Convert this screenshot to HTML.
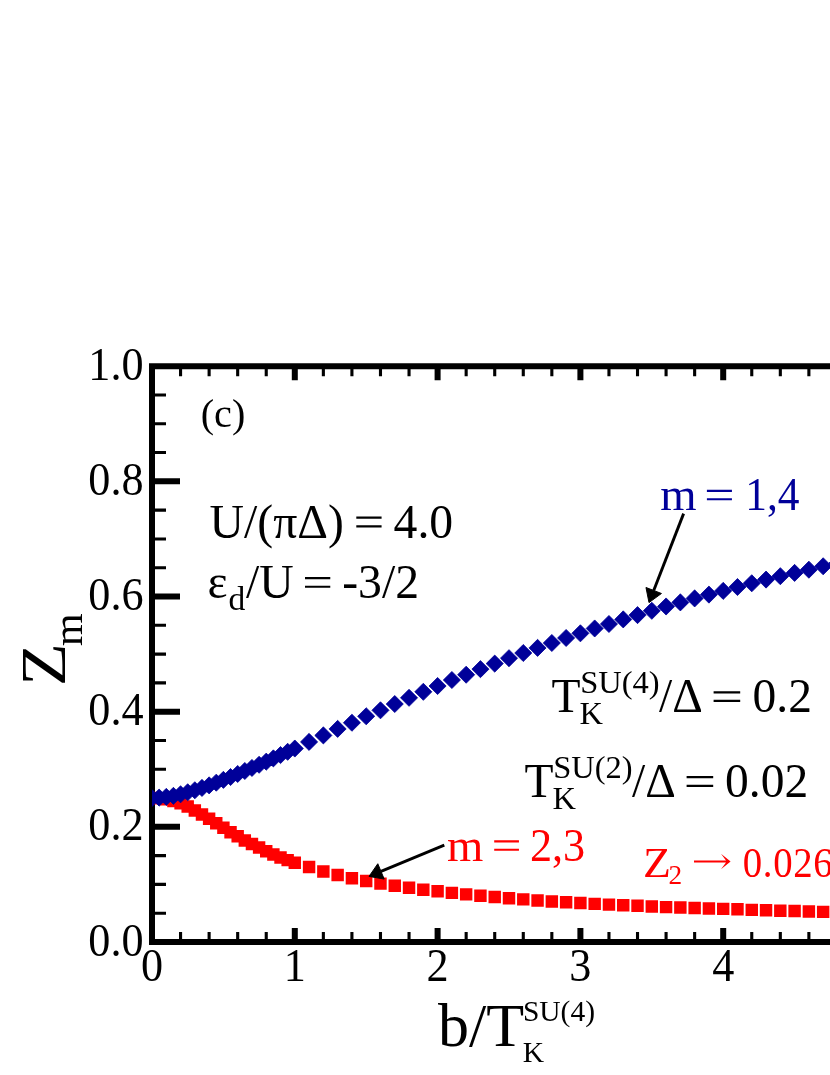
<!DOCTYPE html>
<html><head><meta charset="utf-8"><title>chart</title>
<style>
html,body{margin:0;padding:0;background:#fff;}
body{width:830px;height:1075px;overflow:hidden;}
svg{display:block;will-change:transform;font-family:"Liberation Serif",serif;}
</style></head><body>
<svg width="830" height="1075" viewBox="0 0 830 1075">
<rect width="830" height="1075" fill="#fff"/>
<defs><clipPath id="vp"><rect x="152.0" y="366.2" width="700" height="575.80"/></clipPath></defs>
<g stroke="#000" fill="none">
<path d="M860 366.2H152.0V942.0H860" stroke-width="6" stroke-linejoin="miter"/>
<path d="M294.80 942.0v-14M294.80 366.2v14M437.60 942.0v-14M437.60 366.2v14M580.40 942.0v-14M580.40 366.2v14M723.20 942.0v-14M723.20 366.2v14M152.0 826.84h28M152.0 711.68h28M152.0 596.52h28M152.0 481.36h28" stroke-width="6"/><path d="M180.56 942.0v-10M180.56 366.2v10M209.12 942.0v-10M209.12 366.2v10M237.68 942.0v-10M237.68 366.2v10M266.24 942.0v-10M266.24 366.2v10M323.36 942.0v-10M323.36 366.2v10M351.92 942.0v-10M351.92 366.2v10M380.48 942.0v-10M380.48 366.2v10M409.04 942.0v-10M409.04 366.2v10M466.16 942.0v-10M466.16 366.2v10M494.72 942.0v-10M494.72 366.2v10M523.28 942.0v-10M523.28 366.2v10M551.84 942.0v-10M551.84 366.2v10M608.96 942.0v-10M608.96 366.2v10M637.52 942.0v-10M637.52 366.2v10M666.08 942.0v-10M666.08 366.2v10M694.64 942.0v-10M694.64 366.2v10M751.76 942.0v-10M751.76 366.2v10M780.32 942.0v-10M780.32 366.2v10M808.88 942.0v-10M808.88 366.2v10M837.44 942.0v-10M837.44 366.2v10M152.0 913.21h14M152.0 884.42h14M152.0 855.63h14M152.0 798.05h14M152.0 769.26h14M152.0 740.47h14M152.0 682.89h14M152.0 654.10h14M152.0 625.31h14M152.0 567.73h14M152.0 538.94h14M152.0 510.15h14M152.0 452.57h14M152.0 423.78h14M152.0 394.99h14" stroke-width="3.1"/>
</g>
<g clip-path="url(#vp)">
<path d="M145.78 791.83h12.44v12.44h-12.44zM152.92 792.12h12.44v12.44h-12.44zM160.06 793.10h12.44v12.44h-12.44zM167.20 794.71h12.44v12.44h-12.44zM174.34 797.07h12.44v12.44h-12.44zM181.48 800.29h12.44v12.44h-12.44zM188.62 804.27h12.44v12.44h-12.44zM195.76 808.30h12.44v12.44h-12.44zM202.90 812.56h12.44v12.44h-12.44zM210.04 816.99h12.44v12.44h-12.44zM217.18 821.48h12.44v12.44h-12.44zM224.32 826.03h12.44v12.44h-12.44zM231.46 830.06h12.44v12.44h-12.44zM238.60 834.21h12.44v12.44h-12.44zM245.74 837.84h12.44v12.44h-12.44zM252.88 841.29h12.44v12.44h-12.44zM260.02 844.98h12.44v12.44h-12.44zM267.16 848.37h12.44v12.44h-12.44zM274.30 851.37h12.44v12.44h-12.44zM281.44 853.90h12.44v12.44h-12.44zM288.58 856.49h12.44v12.44h-12.44zM302.86 860.87h12.44v12.44h-12.44zM317.14 865.19h12.44v12.44h-12.44zM331.42 868.70h12.44v12.44h-12.44zM345.70 872.10h12.44v12.44h-12.44zM359.98 874.86h12.44v12.44h-12.44zM374.26 877.39h12.44v12.44h-12.44zM388.54 879.58h12.44v12.44h-12.44zM402.82 881.54h12.44v12.44h-12.44zM417.10 883.50h12.44v12.44h-12.44zM431.38 885.11h12.44v12.44h-12.44zM445.66 886.66h12.44v12.44h-12.44zM459.94 888.16h12.44v12.44h-12.44zM474.22 889.54h12.44v12.44h-12.44zM488.50 890.69h12.44v12.44h-12.44zM502.78 892.02h12.44v12.44h-12.44zM517.06 893.17h12.44v12.44h-12.44zM531.34 894.21h12.44v12.44h-12.44zM545.62 895.24h12.44v12.44h-12.44zM559.90 896.05h12.44v12.44h-12.44zM574.18 896.86h12.44v12.44h-12.44zM588.46 897.66h12.44v12.44h-12.44zM602.74 898.41h12.44v12.44h-12.44zM617.02 899.04h12.44v12.44h-12.44zM631.30 899.62h12.44v12.44h-12.44zM645.58 900.25h12.44v12.44h-12.44zM659.86 900.89h12.44v12.44h-12.44zM674.14 901.29h12.44v12.44h-12.44zM688.42 901.87h12.44v12.44h-12.44zM702.70 902.27h12.44v12.44h-12.44zM716.98 902.67h12.44v12.44h-12.44zM731.26 903.07h12.44v12.44h-12.44zM745.54 903.65h12.44v12.44h-12.44zM759.82 904.05h12.44v12.44h-12.44zM774.10 904.46h12.44v12.44h-12.44zM788.38 904.86h12.44v12.44h-12.44zM802.66 905.26h12.44v12.44h-12.44zM816.94 905.67h12.44v12.44h-12.44zM831.22 906.01h12.44v12.44h-12.44z" fill="#ff0000"/>
<path d="M152.00 789.50l8.55 8.55l-8.55 8.55l-8.55 -8.55zM159.14 789.04l8.55 8.55l-8.55 8.55l-8.55 -8.55zM166.28 788.35l8.55 8.55l-8.55 8.55l-8.55 -8.55zM173.42 787.31l8.55 8.55l-8.55 8.55l-8.55 -8.55zM180.56 785.76l8.55 8.55l-8.55 8.55l-8.55 -8.55zM187.70 783.74l8.55 8.55l-8.55 8.55l-8.55 -8.55zM194.84 781.73l8.55 8.55l-8.55 8.55l-8.55 -8.55zM201.98 779.37l8.55 8.55l-8.55 8.55l-8.55 -8.55zM209.12 776.83l8.55 8.55l-8.55 8.55l-8.55 -8.55zM216.26 774.13l8.55 8.55l-8.55 8.55l-8.55 -8.55zM223.40 771.30l8.55 8.55l-8.55 8.55l-8.55 -8.55zM230.54 768.48l8.55 8.55l-8.55 8.55l-8.55 -8.55zM237.68 765.43l8.55 8.55l-8.55 8.55l-8.55 -8.55zM244.82 762.44l8.55 8.55l-8.55 8.55l-8.55 -8.55zM251.96 759.39l8.55 8.55l-8.55 8.55l-8.55 -8.55zM259.10 756.22l8.55 8.55l-8.55 8.55l-8.55 -8.55zM266.24 753.11l8.55 8.55l-8.55 8.55l-8.55 -8.55zM273.38 749.83l8.55 8.55l-8.55 8.55l-8.55 -8.55zM280.52 746.49l8.55 8.55l-8.55 8.55l-8.55 -8.55zM287.66 743.26l8.55 8.55l-8.55 8.55l-8.55 -8.55zM294.80 739.98l8.55 8.55l-8.55 8.55l-8.55 -8.55zM309.08 733.36l8.55 8.55l-8.55 8.55l-8.55 -8.55zM323.36 726.85l8.55 8.55l-8.55 8.55l-8.55 -8.55zM337.64 720.35l8.55 8.55l-8.55 8.55l-8.55 -8.55zM351.92 714.19l8.55 8.55l-8.55 8.55l-8.55 -8.55zM366.20 707.74l8.55 8.55l-8.55 8.55l-8.55 -8.55zM380.48 701.75l8.55 8.55l-8.55 8.55l-8.55 -8.55zM394.76 695.47l8.55 8.55l-8.55 8.55l-8.55 -8.55zM409.04 689.25l8.55 8.55l-8.55 8.55l-8.55 -8.55zM423.32 683.26l8.55 8.55l-8.55 8.55l-8.55 -8.55zM437.60 677.45l8.55 8.55l-8.55 8.55l-8.55 -8.55zM451.88 671.46l8.55 8.55l-8.55 8.55l-8.55 -8.55zM466.16 666.16l8.55 8.55l-8.55 8.55l-8.55 -8.55zM480.44 660.58l8.55 8.55l-8.55 8.55l-8.55 -8.55zM494.72 655.05l8.55 8.55l-8.55 8.55l-8.55 -8.55zM509.00 649.64l8.55 8.55l-8.55 8.55l-8.55 -8.55zM523.28 644.46l8.55 8.55l-8.55 8.55l-8.55 -8.55zM537.56 639.33l8.55 8.55l-8.55 8.55l-8.55 -8.55zM551.84 634.44l8.55 8.55l-8.55 8.55l-8.55 -8.55zM566.12 629.43l8.55 8.55l-8.55 8.55l-8.55 -8.55zM580.40 624.76l8.55 8.55l-8.55 8.55l-8.55 -8.55zM594.68 619.93l8.55 8.55l-8.55 8.55l-8.55 -8.55zM608.96 615.44l8.55 8.55l-8.55 8.55l-8.55 -8.55zM623.24 610.83l8.55 8.55l-8.55 8.55l-8.55 -8.55zM637.52 606.57l8.55 8.55l-8.55 8.55l-8.55 -8.55zM651.80 602.25l8.55 8.55l-8.55 8.55l-8.55 -8.55zM666.08 597.93l8.55 8.55l-8.55 8.55l-8.55 -8.55zM680.36 593.84l8.55 8.55l-8.55 8.55l-8.55 -8.55zM694.64 589.87l8.55 8.55l-8.55 8.55l-8.55 -8.55zM708.92 586.07l8.55 8.55l-8.55 8.55l-8.55 -8.55zM723.20 582.33l8.55 8.55l-8.55 8.55l-8.55 -8.55zM737.48 578.47l8.55 8.55l-8.55 8.55l-8.55 -8.55zM751.76 574.73l8.55 8.55l-8.55 8.55l-8.55 -8.55zM766.04 571.04l8.55 8.55l-8.55 8.55l-8.55 -8.55zM780.32 567.64l8.55 8.55l-8.55 8.55l-8.55 -8.55zM794.60 564.36l8.55 8.55l-8.55 8.55l-8.55 -8.55zM808.88 561.14l8.55 8.55l-8.55 8.55l-8.55 -8.55zM823.16 557.74l8.55 8.55l-8.55 8.55l-8.55 -8.55zM837.44 554.57l8.55 8.55l-8.55 8.55l-8.55 -8.55z" fill="#000099" stroke="#000099" stroke-width="0.8" stroke-linejoin="round"/>
</g>
<text transform="translate(143.6,955.6) scale(0.94,1.0)" font-size="47" fill="#000" text-anchor="end">0.0</text>
<text transform="translate(143.6,840.44) scale(0.94,1.0)" font-size="47" fill="#000" text-anchor="end">0.2</text>
<text transform="translate(143.6,725.28) scale(0.94,1.0)" font-size="47" fill="#000" text-anchor="end">0.4</text>
<text transform="translate(143.6,610.12) scale(0.94,1.0)" font-size="47" fill="#000" text-anchor="end">0.6</text>
<text transform="translate(143.6,494.96) scale(0.94,1.0)" font-size="47" fill="#000" text-anchor="end">0.8</text>
<text transform="translate(143.6,379.8) scale(0.94,1.0)" font-size="47" fill="#000" text-anchor="end">1.0</text>
<text transform="translate(152.0,980.6) scale(0.94,1.0)" font-size="47" fill="#000" text-anchor="middle">0</text>
<text transform="translate(294.8,980.6) scale(0.94,1.0)" font-size="47" fill="#000" text-anchor="middle">1</text>
<text transform="translate(437.6,980.6) scale(0.94,1.0)" font-size="47" fill="#000" text-anchor="middle">2</text>
<text transform="translate(580.4,980.6) scale(0.94,1.0)" font-size="47" fill="#000" text-anchor="middle">3</text>
<text transform="translate(723.2,980.6) scale(0.94,1.0)" font-size="47" fill="#000" text-anchor="middle">4</text>
<text x="200.7" y="427.3" font-size="40.2" fill="#000">(c)</text>
<text x="209.6" y="537.6" font-size="47.7" fill="#000">U/(πΔ)</text>
<path d="M356.30 516.61h25.28v2.19h-25.28zM356.30 525.25h25.28v2.19h-25.28z" fill="#000"/>
<text x="393.6" y="537.6" font-size="47.7" fill="#000">4.0</text>
<text x="207.4" y="598" font-size="47.7" fill="#000">ε</text>
<text x="228.4" y="610.3" font-size="33.5" fill="#000">d</text>
<text x="246" y="598" font-size="47.7" fill="#000">/U</text>
<path d="M305.00 577.01h25.28v2.19h-25.28zM305.00 585.65h25.28v2.19h-25.28z" fill="#000"/>
<text x="342.2" y="598" font-size="47.7" fill="#000">-3/2</text>
<text x="551.5" y="712.1" font-size="47.5" fill="#000">T</text><text x="579.6" y="724.2" font-size="32.5" fill="#000">K</text><text x="580.2" y="692.8" font-size="32.5" fill="#000">SU(4)</text><text x="659.1" y="712.1" font-size="47.5" fill="#000">/Δ</text><path d="M713.60 691.20h26.60v2.19h-26.60zM713.60 699.80h26.60v2.19h-26.60z" fill="#000"/><text x="752.5" y="712.1" font-size="47.5" fill="#000">0.2</text>
<text x="524.5" y="797" font-size="47.5" fill="#000">T</text><text x="552.6" y="809.1" font-size="32.5" fill="#000">K</text><text x="553.2" y="777.7" font-size="32.5" fill="#000">SU(2)</text><text x="632.1" y="797" font-size="47.5" fill="#000">/Δ</text><path d="M686.60 776.10h26.60v2.19h-26.60zM686.60 784.70h26.60v2.19h-26.60z" fill="#000"/><text x="725.0" y="797" font-size="47.5" fill="#000">0.02</text>
<text x="438.1" y="1045.6" font-size="62" fill="#000">b/T</text>
<text x="522.7" y="1062.2" font-size="29.5" fill="#000">K</text>
<text x="522.9" y="1021.2" font-size="29.5" fill="#000">SU(4)</text>
<text transform="translate(64.8,685.9) rotate(-90) scale(1.12,1)" font-size="62.5">Z</text>
<text transform="translate(81.8,645.9) rotate(-90)" font-size="42">m</text>
<text x="660.2" y="510.3" font-size="46.7" fill="#000099">m</text>
<path d="M706.90 489.75h25.03v2.15h-25.03zM706.90 498.20h25.03v2.15h-25.03z" fill="#000099"/>
<text transform="translate(745.2,510.3) scale(0.93,1.0)" font-size="46.7" fill="#000099">1,4</text>
<text x="447" y="860.8" font-size="46.7" fill="#ff0000">m</text>
<path d="M494.20 840.25h24.75v2.15h-24.75zM494.20 848.70h24.75v2.15h-24.75z" fill="#ff0000"/>
<text transform="translate(529.9,860.8) scale(0.947,1.0)" font-size="46.7" fill="#ff0000">2,3</text>
<text transform="translate(642.9,876.5) scale(1.09,1.0)" font-size="42" fill="#ff0000">Z</text>
<text x="668.5" y="883.8" font-size="27.3" fill="#ff0000">2</text>
<text transform="translate(742.8,876.7) scale(0.917,1.0)" font-size="42.3" fill="#ff0000" letter-spacing="0.68">0.026</text>
<path d="M721.0 853.7L730.6 861.5L721.0 869.3L726.0 862.6H694V860.4H726.0Z" fill="#ff0000"/>
<path d="M683.60 513.60L653.71 590.48" stroke="#000" stroke-width="2.9" fill="none"/><path d="M649.00 602.60L645.97 587.48L661.45 593.49Z" fill="#000" stroke="#000" stroke-width="1" stroke-linejoin="round"/><path d="M444.30 845.06L381.00 871.40" stroke="#000" stroke-width="2.9" fill="none"/><path d="M369.00 876.40L377.81 863.74L384.19 879.07Z" fill="#000" stroke="#000" stroke-width="1" stroke-linejoin="round"/>
</svg>
</body></html>
